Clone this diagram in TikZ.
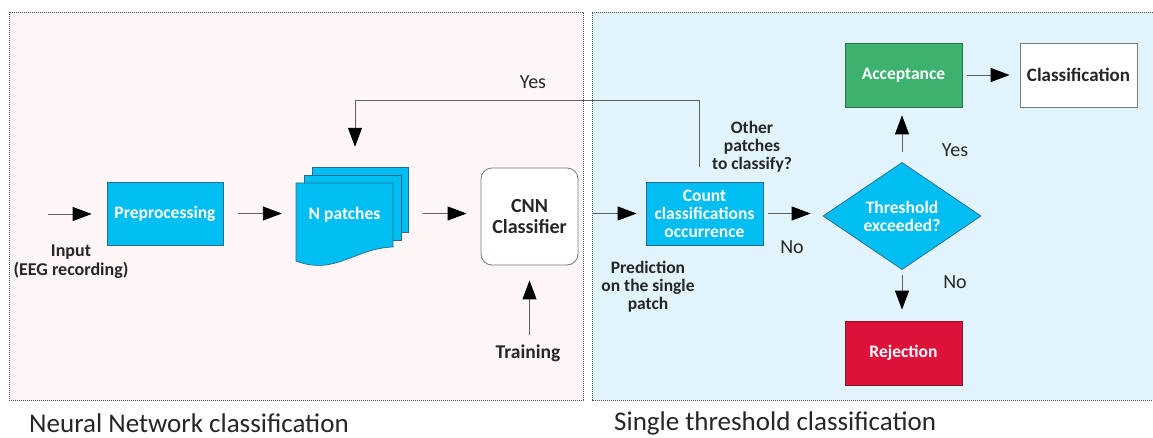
\documentclass[tikz,border=0pt]{standalone}
\usepackage{fontspec}
\setmainfont{Carlito}
\usetikzlibrary{arrows.meta,shapes.geometric}
\definecolor{cyanfill}{RGB}{0,190,242}
\definecolor{cyanedge}{RGB}{40,105,140}
\definecolor{greenfill}{RGB}{60,178,110}
\definecolor{greenedge}{RGB}{40,110,70}
\definecolor{redfill}{RGB}{220,18,58}
\definecolor{rededge}{RGB}{130,20,40}
\definecolor{pinkbg}{RGB}{253,245,246}
\definecolor{bluebg}{RGB}{225,244,252}
\definecolor{linegray}{RGB}{95,95,95}
\definecolor{boxgray}{RGB}{120,120,120}
\begin{document}
\begin{tikzpicture}[x=1pt,y=-1pt,
  panelborder/.style={draw=black!70, line width=0.8pt, dash pattern=on 1.2pt off 0.8pt},
  title/.style={font=\fontsize{27}{30}\selectfont, text=black!85, inner sep=0pt},
  boxtext/.style={font=\fontsize{17.5}{18}\selectfont\bfseries, text=white, align=center, inner sep=0pt},
  cbox/.style={draw=cyanedge, line width=0.7pt, fill=cyanfill, boxtext},
  gbox/.style={draw=greenedge, line width=0.7pt, fill=greenfill, boxtext},
  rbox/.style={draw=rededge, line width=0.7pt, fill=redfill, boxtext},
  wbox/.style={draw=boxgray, line width=0.8pt, fill=white, font=\fontsize{19}{20}\selectfont\bfseries, text=black!85, align=center, inner sep=0pt},
  sheet/.style={draw=cyanedge, line width=0.7pt, fill=cyanfill},
  lbl/.style={font=\fontsize{18}{19}\selectfont\bfseries, text=black!85, align=center, inner sep=0pt},
  yn/.style={font=\fontsize{20}{22}\selectfont, text=black!85, inner sep=0pt},
  arr/.style={draw=linegray, line width=0.9pt, -{Triangle[length=19pt,width=14pt,color=black]}}
]
\path[use as bounding box] (0,0) rectangle (1153,438);
\fill[white] (0,0) rectangle (1153,438);
% panels
\fill[pinkbg] (9,12) rectangle (583,400);
\draw[panelborder] (9,12) rectangle (583,400);
\fill[bluebg] (592,12) rectangle (1153,400);
\draw[panelborder] (1153,12) -- (592,12) -- (592,400) -- (1153,400);
\node[title, anchor=west] (t1) at (29,423) {Neural Network classification};
\node[title, anchor=west] (t2) at (614,423) {Single threshold classification};

% boxes
\node[cbox, minimum width=116pt, minimum height=63pt] (pre) at (165,213.5) {Preprocessing};
\node[cbox, minimum width=117pt, minimum height=63pt] (count) at (704.5,213.5) {Count\\classifications\\occurrence};
\node[wbox, rounded corners=11pt, minimum width=97pt, minimum height=97pt, font=\fontsize{20}{21}\selectfont\bfseries] (cnn) at (529.5,216.5) {CNN\\Classifier};
\node[gbox, minimum width=117pt, minimum height=64pt] (acc) at (903.5,75) {Acceptance};
\node[wbox, minimum width=117pt, minimum height=64pt] (cls) at (1078.5,75) {Classification};
\node[rbox, minimum width=117pt, minimum height=64pt] (rej) at (903.5,353) {Rejection};
\node[diamond, draw=cyanedge, line width=0.7pt, fill=cyanfill, boxtext, minimum width=158pt, minimum height=92pt] (dia) at (902,216) {Threshold\\exceeded?};

% N patches stack
\filldraw[sheet] (312,167) rectangle (408,232);
\filldraw[sheet] (304,175) rectangle (401,240);
\filldraw[sheet] (296,183) -- (393,183) -- (393,247) .. controls (355,248) and (335,276) .. (296,261) -- cycle;
\node[inner sep=0pt, minimum width=112pt, minimum height=100pt] (np) at (352,217) {};
\node[boxtext] (nptext) at (344.5,215) {N patches};

% labels
\node[lbl] (inp) at (71,262) {Input\\(EEG recording)};
\node[lbl, font=\fontsize{19.5}{20}\selectfont\bfseries] (train) at (528,353) {Training};
\node[lbl, font=\fontsize{17.5}{18}\selectfont\bfseries] (pred) at (648,287) {Prediction\\on the single\\patch};
\node[lbl, font=\fontsize{17.5}{18}\selectfont\bfseries] (other) at (752,147) {Other\\patches\\to classify?};
\node[yn] (yes1) at (533,82) {Yes};
\node[yn] (no1) at (792,247) {No};
\node[yn] (yes2) at (955,150) {Yes};
\node[yn] (no2) at (955,282) {No};

% connectors
\coordinate (instart) at (48,214);
\draw[arr, shorten >=15pt] (instart) -- (instart -| pre.west);
\draw[arr, shorten <=15pt, shorten >=14pt] (pre.east) -- (pre.east -| np.west);
\draw[arr, shorten <=15pt, shorten >=14pt] (np.east |- pre.east) -- (cnn.west |- pre.east);
\draw[arr, shorten <=15pt, shorten >=9pt] (cnn.east |- pre.east) -- (count.west);
\draw[arr, shorten <=5pt, shorten >=12pt] (count.east) -- (dia.west |- count.east);
\draw[arr, shorten <=10pt, shorten >=8pt] (dia.north) -- (dia.north |- acc.south);
\draw[arr, shorten <=5pt, shorten >=11pt] (dia.south) -- (dia.south |- rej.north);
\draw[arr, shorten <=5pt, shorten >=10pt] (acc.east) -- (cls.west);
\draw[arr, shorten <=9pt, shorten >=15pt] (cnn.south |- train.north) -- (cnn.south);
\coordinate (fbc) at (355,100);
\draw[arr, shorten <=15pt, shorten >=20pt] ([xshift=-5.5pt]count.north) |- (fbc) -- (fbc |- np.north);
\end{tikzpicture}
\end{document}
